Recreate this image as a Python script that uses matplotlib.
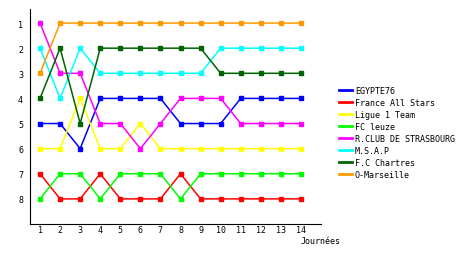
import matplotlib
matplotlib.use("Agg")
import matplotlib.pyplot as plt

journees = list(range(1, 15))
teams = ["EGYPTE76", "France All Stars", "Ligue 1 Team", "FC leuze",
         "R.CLUB DE STRASBOURG", "M.S.A.P", "F.C Chartres", "O-Marseille"]
colors = ["#0000ff", "#ff0000", "#ffff00", "#00ff00",
          "#ff00ff", "#00ffff", "#006400", "#ff9900"]

egypte = [5, 5, 6, 4, 4, 4, 4, 5, 5, 5, 4, 4, 4, 4]
france = [7, 8, 8, 7, 8, 8, 8, 7, 8, 8, 8, 8, 8, 8]
ligue1 = [6, 6, 4, 6, 6, 5, 6, 6, 6, 6, 6, 6, 6, 6]
leuze = [8, 7, 7, 8, 7, 7, 7, 8, 7, 7, 7, 7, 7, 7]
strasbourg = [1, 3, 3, 5, 5, 6, 5, 4, 4, 4, 5, 5, 5, 5]
msap = [2, 4, 2, 3, 3, 3, 3, 3, 3, 2, 2, 2, 2, 2]
chartres = [4, 2, 5, 2, 2, 2, 2, 2, 2, 3, 3, 3, 3, 3]
marseille = [3, 1, 1, 1, 1, 1, 1, 1, 1, 1, 1, 1, 1, 1]
series = [egypte, france, ligue1, leuze, strasbourg, msap, chartres, marseille]

plt.rcParams['font.family'] = 'DejaVu Sans Mono'
plt.rcParams['font.size'] = 6

fig = plt.figure(figsize=(4.6, 2.55), dpi=100)
ax = fig.add_axes([30 / 460, 1 - 225 / 255, 291 / 460, 215 / 255])

# one line per team, ranking per matchday
for name, vals, c in zip(teams, series, colors):
    ax.plot(journees, vals, color=c, linewidth=1.1, marker='s',
            markersize=2.3, label=name)

ax.set_xlim(0.5, 15)
ax.set_ylim(9, 0.44)
ax.set_xticks(journees)
ax.set_yticks(range(1, 9))
ax.tick_params(length=0, labelsize=6)
ax.tick_params(axis='y', pad=5)
ax.tick_params(axis='x', pad=1)
for s in ['top', 'right']:
    ax.spines[s].set_visible(False)

fig.text(301 / 460, 1 - 242 / 255, "Journées", fontsize=6, va='center')

handles, labels = ax.get_legend_handles_labels()
leg = fig.legend(handles, labels, loc='upper left',
                 bbox_to_anchor=(335 / 460, 1 - 83 / 255),
                 frameon=False, fontsize=6, handlelength=1.5,
                 handletextpad=0.4, labelspacing=0.35, borderpad=0)
for line in leg.get_lines():
    line.set_marker('')
    line.set_linewidth(2)

fig.savefig("out.png", dpi=100)
